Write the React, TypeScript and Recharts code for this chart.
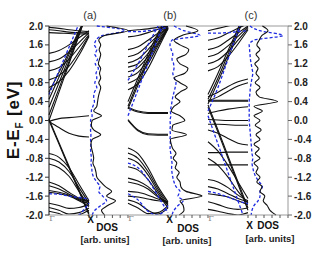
import React from 'react'
import { LineChart, Line, XAxis, YAxis, ReferenceLine } from 'recharts'

const W = 332
const H = 254
const PLOT_TOP = 26
const PLOT_BOTTOM = 215
const FONT = 'Liberation Sans, Arial, sans-serif'
const BLUE = '#1f2be0'
const FRAME = '#9a9a9a'

// k-path sample points (Γ -> X)
const kPoints = [0, 0.25, 0.5, 0.75, 1]
const energyTicks = [2.0, 1.6, 1.2, 0.8, 0.4, 0.0, -0.4, -0.8, -1.2, -1.6, -2.0]
const minorTicks = [2.0, 1.8, 1.6, 1.4, 1.2, 1.0, 0.8, 0.6, 0.4, 0.2, 0.0, -0.2, -0.4, -0.6, -0.8, -1.0, -1.2, -1.4, -1.6, -1.8, -2.0]
const dosTicks = [0, 0.2, 0.4, 0.6, 0.8, 1]
const dosEnergies = [
  2.0, 1.9, 1.8, 1.7, 1.6, 1.5, 1.4, 1.3, 1.2, 1.1,
  1.0, 0.9, 0.8, 0.7, 0.6, 0.5, 0.4, 0.3, 0.2, 0.1,
  0.0, -0.1, -0.2, -0.3, -0.4, -0.5, -0.6, -0.7, -0.8, -0.9,
  -1.0, -1.1, -1.2, -1.3, -1.4, -1.5, -1.6, -1.7, -1.8, -1.9,
  -2.0,
]

// band energies at kPoints
const bandsA = [
  [1.97, 1.95, 1.92, 1.9, 1.88],
  [1.92, 1.9, 1.87, 1.86, 1.85],
  [1.86, 1.85, 1.84, 1.83, 1.83],
  [1.42, 1.48, 1.6, 1.75, 1.9],
  [1.24, 1.3, 1.45, 1.65, 1.86],
  [1.05, 1.12, 1.3, 1.55, 1.82],
  [0.86, 0.95, 1.15, 1.45, 1.8],
  [0.7, 0.82, 1.05, 1.38, 1.78],
  [0.0, 0.6, 1.2, 1.8, 2.4],
  [0.12, 0.68, 1.25, 1.82, 2.4],
  [0.28, 0.8, 1.32, 1.85, 2.35],
  [0.45, 0.92, 1.4, 1.88, 2.35],
  [0.6, 1.02, 1.45, 1.9, 2.3],
  [-0.02, 0.04, 0.06, 0.08, 0.1],
  [-0.02, -0.15, -0.27, -0.33, -0.35],
  [0.0, -0.5, -1.0, -1.5, -2.0],
  [0.03, -0.47, -0.97, -1.47, -1.97],
  [-0.7, -0.78, -1.0, -1.35, -1.7],
  [-0.8, -0.88, -1.08, -1.42, -1.75],
  [-0.92, -1.0, -1.18, -1.5, -1.8],
  [-1.3, -1.38, -1.52, -1.64, -1.7],
  [-1.38, -1.45, -1.56, -1.66, -1.72],
  [-1.48, -1.52, -1.58, -1.68, -1.76],
  [-1.52, -1.55, -1.6, -1.7, -1.82],
  [-1.75, -1.8, -1.86, -1.84, -1.78],
  [-1.84, -1.9, -1.98, -1.95, -1.85],
  [-1.92, -1.97, -2.05, -2.0, -1.9],
]
const bandsDashedA = [
  [0.55, 1.05, 1.55, 2.05, 2.55],
  [-1.55, -1.56, -1.6, -1.63, -1.66],
  [-2.4, -2.3, -2.15, -2.0, -1.75],
]

const bandsB = [
  [1.9, 1.92, 1.94, 1.97, 2.0],
  [1.77, 1.8, 1.86, 1.93, 2.0],
  [1.5, 1.56, 1.7, 1.85, 2.0],
  [1.35, 1.42, 1.6, 1.8, 1.98],
  [1.22, 1.3, 1.5, 1.75, 1.98],
  [1.13, 1.2, 1.42, 1.7, 1.97],
  [1.03, 1.12, 1.35, 1.65, 1.96],
  [0.92, 1.02, 1.28, 1.62, 1.95],
  [0.79, 0.9, 1.2, 1.58, 1.95],
  [0.65, 0.78, 1.1, 1.52, 1.94],
  [0.25, 0.75, 1.25, 1.75, 2.25],
  [0.3, 0.82, 1.32, 1.8, 2.25],
  [0.4, 0.9, 1.4, 1.85, 2.25],
  [0.26, 0.18, 0.15, 0.15, 0.15],
  [0.28, 0.2, 0.17, 0.17, 0.17],
  [0.0, -0.22, -0.3, -0.31, -0.31],
  [0.02, -0.2, -0.28, -0.29, -0.29],
  [-0.58, -0.7, -1.0, -1.4, -1.72],
  [-0.69, -0.8, -1.08, -1.45, -1.76],
  [-0.8, -0.9, -1.15, -1.5, -1.8],
  [-0.98, -1.05, -1.25, -1.55, -1.85],
  [-1.22, -1.28, -1.4, -1.6, -1.78],
  [-1.3, -1.35, -1.45, -1.62, -1.75],
  [-1.5, -1.52, -1.58, -1.66, -1.72],
  [-1.6, -1.62, -1.66, -1.7, -1.72],
  [-1.75, -1.85, -1.97, -1.95, -1.8],
  [-1.68, -1.75, -1.9, -1.98, -1.85],
]
const bandsDashedB = [
  [0.1, 0.65, 1.2, 1.75, 2.3],
  [0.85, 1.2, 1.6, 2.0, 2.4],
  [1.88, 1.88, 1.9, 1.93, 1.97],
  [-0.9, -1.0, -1.25, -1.6, -1.95],
  [-1.55, -1.68, -1.92, -2.0, -1.8],
]

const bandsC = [
  [1.9, 1.95, 2.0, 2.05, 2.1],
  [1.7, 1.75, 1.85, 1.95, 2.05],
  [1.5, 1.56, 1.7, 1.85, 2.0],
  [1.35, 1.42, 1.58, 1.78, 1.98],
  [1.2, 1.28, 1.46, 1.7, 1.95],
  [1.05, 1.14, 1.35, 1.62, 1.92],
  [0.45, 0.9, 1.4, 1.9, 2.4],
  [0.35, 0.82, 1.32, 1.85, 2.35],
  [0.55, 1.0, 1.48, 1.95, 2.4],
  [0.5, 0.6, 0.72, 0.82, 0.88],
  [0.42, 0.5, 0.62, 0.73, 0.8],
  [0.43, 0.43, 0.43, 0.43, 0.43],
  [0.41, 0.41, 0.41, 0.41, 0.41],
  [0.15, 0.2, 0.24, 0.27, 0.29],
  [0.02, 0.01, 0.0, 0.0, 0.0],
  [-0.08, -0.08, -0.09, -0.1, -0.1],
  [0.33, -0.2, -0.75, -1.3, -1.85],
  [0.28, -0.25, -0.8, -1.35, -1.9],
  [-0.2, -0.27, -0.38, -0.48, -0.52],
  [-0.68, -0.68, -0.67, -0.67, -0.67],
  [-0.94, -0.94, -0.94, -0.94, -0.94],
  [-0.45, -0.65, -0.95, -1.3, -1.65],
  [-0.8, -0.95, -1.2, -1.5, -1.75],
  [-1.25, -1.3, -1.42, -1.58, -1.7],
  [-1.4, -1.45, -1.55, -1.65, -1.72],
  [-1.55, -1.58, -1.62, -1.7, -1.78],
  [-1.72, -1.78, -1.85, -1.88, -1.85],
  [-1.88, -1.92, -1.97, -2.0, -1.95],
]
const bandsDashedC = [
  [0.2, 0.7, 1.3, 1.9, 2.5],
  [1.85, 1.85, 1.86, 1.88, 1.9],
  [0.1, -0.5, -1.1, -1.7, -2.3],
  [-1.5, -1.55, -1.62, -1.7, -1.76],
]

// DOS (arb. units) at dosEnergies
const dosSolidA = [
  0.45, 1.0, 0.4, 0.25, 0.3, 0.26, 0.3, 0.27, 0.24, 0.3,
  0.27, 0.3, 0.25, 0.3, 0.27, 0.24, 0.22, 0.2, 0.12, 0.32,
  0.08, 0.06, 0.12, 0.3, 0.08, 0.05, 0.07, 0.1, 0.12, 0.1,
  0.15, 0.18, 0.2, 0.3, 0.42, 0.58, 0.45, 0.68, 0.48, 0.32,
  0.4,
]
const dosDashedA = [
  0.2, 0.92, 0.35, 0.18, 0.14, 0.2, 0.15, 0.22, 0.16, 0.24,
  0.18, 0.2, 0.15, 0.2, 0.14, 0.12, 0.14, 0.1, 0.06, 0.08,
  0.04, 0.05, 0.04, 0.05, 0.04, 0.05, 0.04, 0.05, 0.06, 0.05,
  0.07, 0.08, 0.12, 0.2, 0.28, 0.25, 0.35, 0.45, 0.3, 0.15,
  0.08,
]
const dosSolidB = [
  0.45, 0.75, 0.35, 0.15, 0.3, 0.52, 0.45, 0.22, 0.3, 0.5,
  0.42, 0.15, 0.3, 0.48, 0.3, 0.18, 0.3, 0.15, 0.08, 0.3,
  0.42, 0.12, 0.1, 0.46, 0.06, 0.08, 0.12, 0.2, 0.13, 0.22,
  0.18, 0.28, 0.22, 0.3, 0.32, 0.45, 0.85, 0.3, 0.38, 0.4,
  0.28,
]
const dosDashedB = [
  0.15, 0.4, 0.8, 0.1, 0.05, 0.08, 0.12, 0.1, 0.14, 0.15,
  0.12, 0.16, 0.2, 0.18, 0.15, 0.12, 0.1, 0.08, 0.06, 0.07,
  0.05, 0.06, 0.05, 0.06, 0.05, 0.06, 0.05, 0.07, 0.08, 0.1,
  0.09, 0.1, 0.12, 0.15, 0.2, 0.3, 0.25, 0.38, 0.25, 0.15,
  0.1,
]
const dosSolidC = [
  0.36, 0.5, 0.35, 0.28, 0.22, 0.3, 0.2, 0.28, 0.17, 0.25,
  0.2, 0.28, 0.18, 0.3, 0.2, 0.28, 0.74, 0.15, 0.36, 0.15,
  0.3, 0.18, 0.33, 0.2, 0.3, 0.15, 0.28, 0.18, 0.3, 0.15,
  0.25, 0.2, 0.3, 0.22, 0.35, 0.3, 0.42, 0.38, 0.48, 0.55,
  0.7,
]
const dosDashedC = [
  0.05, 0.3, 0.87, 0.15, 0.03, 0.04, 0.05, 0.06, 0.08, 0.1,
  0.12, 0.1, 0.08, 0.06, 0.05, 0.04, 0.03, 0.03, 0.03, 0.03,
  0.03, 0.04, 0.05, 0.06, 0.07, 0.08, 0.09, 0.1, 0.12, 0.1,
  0.12, 0.15, 0.2, 0.28, 0.36, 0.3, 0.3, 0.25, 0.15, 0.1,
  0.08,
]

const layer: React.CSSProperties = { position: 'absolute', left: 0, top: 0 }

function BandChart({ x0, x1, solid, dashed, withLabels, xLabelY }: any) {
  const rows = kPoints.map((k, i) => {
    const r: Record<string, number> = { k }
    solid.forEach((b: number[], j: number) => (r['s' + j] = b[i]))
    dashed.forEach((b: number[], j: number) => (r['d' + j] = b[i]))
    return r
  })
  const yw = withLabels ? 49 : 0
  const KTick = ({ x, payload }: any) =>
    payload.value === 0 ? (
      <text x={x + 3} y={221} textAnchor="middle" fontSize={8} fill="#8a8a8a" fontFamily="DejaVu Serif">Γ</text>
    ) : (
      <text x={x + 1.5} y={xLabelY} textAnchor="middle" fontSize={10} fontWeight="bold" fill="#111" fontFamily={FONT}>X</text>
    )
  return (
    <div style={layer}>
      <LineChart width={W} height={H} data={rows}
        margin={{ top: PLOT_TOP, left: x0 - yw, right: W - x1, bottom: H - PLOT_BOTTOM - 20 }}>
        <XAxis dataKey="k" type="number" domain={[0, 1]} ticks={[0, 1]} height={20}
          tickSize={0} tickMargin={0} tickLine={false} axisLine={{ stroke: FRAME }} tick={<KTick />} interval={0} />
        <YAxis type="number" domain={[-2, 2]} allowDataOverflow width={yw} ticks={energyTicks} interval={0}
          tick={withLabels ? { fontSize: 10, fontWeight: 'bold', fill: '#222', fontFamily: FONT } : false}
          tickFormatter={(v: number) => v.toFixed(1)}
          tickSize={4} tickLine={withLabels ? { stroke: '#333' } : false}
          axisLine={{ stroke: '#111' }} />
        <ReferenceLine y={2} stroke={FRAME} />
        {solid.map((_: number[], j: number) => (
          <Line key={'s' + j} dataKey={'s' + j} type="monotone" stroke="#111" strokeWidth={1.1}
            dot={false} isAnimationActive={false} />
        ))}
        {dashed.map((_: number[], j: number) => (
          <Line key={'d' + j} dataKey={'d' + j} type="monotone" stroke={BLUE} strokeWidth={1.3}
            strokeDasharray="3 2" dot={false} isAnimationActive={false} />
        ))}
      </LineChart>
    </div>
  )
}

function DosChart({ x0, x1, solid, dashed, withLabels }: any) {
  const rows = dosEnergies.map((E, i) => ({ E, s: solid[i], d: dashed[i] }))
  const rw = withLabels ? 44 : 0
  return (
    <div style={layer}>
      <LineChart layout="vertical" width={W} height={H} data={rows}
        margin={{ top: PLOT_TOP, left: x0, right: W - x1 - rw, bottom: H - PLOT_BOTTOM - 20 }}>
        <XAxis type="number" domain={[0, 1]} allowDataOverflow ticks={dosTicks} height={20} interval={0}
          tickSize={3} tickFormatter={() => ''} axisLine={{ stroke: FRAME }} tickLine={{ stroke: '#555' }} />
        <YAxis yAxisId="l" type="number" dataKey="E" domain={[-2, 2]} reversed width={0}
          tick={false} tickLine={false} axisLine={{ stroke: '#111' }} />
        <YAxis yAxisId="r" orientation="right" type="number" dataKey="E" domain={[-2, 2]} reversed width={rw}
          ticks={withLabels ? energyTicks : minorTicks} interval={0}
          tick={withLabels ? { fontSize: 10, fontWeight: 'bold', fill: '#222', fontFamily: FONT } : false}
          tickFormatter={(v: number) => v.toFixed(1)}
          tickSize={withLabels ? 4 : 2} tickLine={{ stroke: '#666' }} axisLine={{ stroke: FRAME }} />
        <ReferenceLine yAxisId="l" y={2} stroke={FRAME} />
        <Line yAxisId="l" dataKey="d" type="monotone" stroke={BLUE} strokeWidth={1.3}
          strokeDasharray="3 2" dot={false} isAnimationActive={false} />
        <Line yAxisId="l" dataKey="s" type="monotone" stroke="#111" strokeWidth={1.1}
          dot={false} isAnimationActive={false} />
      </LineChart>
    </div>
  )
}

export default function App() {
  return (
    <div style={{ position: 'absolute', left: 0, top: 0, width: W, height: H, background: '#fff' }}>
      <BandChart x0={49} x1={89} solid={bandsA} dashed={bandsDashedA} withLabels xLabelY={223} />
      <DosChart x0={89} x1={128} solid={dosSolidA} dashed={dosDashedA} />
      <BandChart x0={128} x1={168} solid={bandsB} dashed={bandsDashedB} xLabelY={223} />
      <DosChart x0={168} x1={208} solid={dosSolidB} dashed={dosDashedB} />
      <BandChart x0={208} x1={248} solid={bandsC} dashed={bandsDashedC} xLabelY={229} />
      <DosChart x0={248} x1={288} solid={dosSolidC} dashed={dosDashedC} withLabels />
      <svg width={W} height={H} style={{ ...layer, pointerEvents: 'none' }} fontFamily={FONT}>
        <text x={90} y={19} textAnchor="middle" fontSize={11} fill="#333">(a)</text>
        <text x={170} y={19} textAnchor="middle" fontSize={11} fill="#333">(b)</text>
        <text x={251} y={19} textAnchor="middle" fontSize={11} fill="#333">(c)</text>
        <text x={107} y={231} textAnchor="middle" fontSize={10} fontWeight="bold" fill="#111">DOS</text>
        <text x={188} y={232} textAnchor="middle" fontSize={10} fontWeight="bold" fill="#111">DOS</text>
        <text x={268} y={229} textAnchor="middle" fontSize={10} fontWeight="bold" fill="#111">DOS</text>
        <text x={105} y={243} textAnchor="middle" fontSize={9.5} fontWeight="bold" fill="#222">[arb. units]</text>
        <text x={187} y={244} textAnchor="middle" fontSize={9.5} fontWeight="bold" fill="#222">[arb. units]</text>
        <text x={270} y={242} textAnchor="middle" fontSize={9.5} fontWeight="bold" fill="#222">[arb. units]</text>
        <text x={19} y={120} transform="rotate(-90 19 120)" textAnchor="middle" fontSize={17}
          fontWeight="bold" fill="#111" letterSpacing={0.8}>
          E-E<tspan fontSize={10} dy={4}>F</tspan><tspan dy={-4}> [eV]</tspan>
        </text>
      </svg>
    </div>
  )
}
